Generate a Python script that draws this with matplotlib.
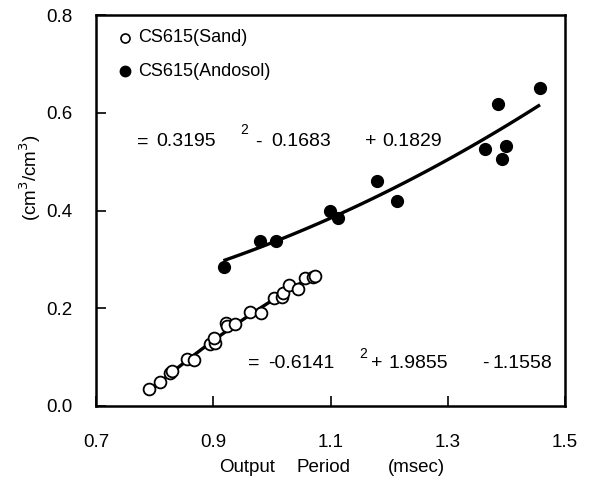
import numpy as np
import matplotlib
matplotlib.use("Agg")
import matplotlib.pyplot as plt
from matplotlib import font_manager

names = {f.name for f in font_manager.fontManager.ttflist}
narrow = 'Liberation Sans Narrow' in names
fam = ['Liberation Sans Narrow', 'Liberation Sans', 'DejaVu Sans'] if narrow else ['Liberation Sans', 'DejaVu Sans']
plt.rcParams['font.family'] = fam
k = 1.12 if narrow else 1.0

# Data
sand_x = [0.791, 0.810, 0.826, 0.830, 0.855, 0.868, 0.895, 0.903, 0.902,
          0.921, 0.924, 0.937, 0.962, 0.981, 1.003, 1.017, 1.019, 1.029,
          1.045, 1.057, 1.070, 1.074]
sand_y = [0.035, 0.050, 0.067, 0.071, 0.096, 0.094, 0.127, 0.128, 0.140,
          0.169, 0.164, 0.168, 0.192, 0.191, 0.220, 0.222, 0.231, 0.248,
          0.239, 0.261, 0.264, 0.266]
ando_x = [0.919, 0.979, 1.007, 1.099, 1.112, 1.180, 1.213, 1.364, 1.386,
          1.392, 1.399, 1.458]
ando_y = [0.284, 0.337, 0.337, 0.398, 0.385, 0.461, 0.420, 0.525, 0.618,
          0.505, 0.531, 0.650]
sand_coef = [-0.6141, 1.9855, -1.1558]
ando_coef = [0.3195, -0.1683, 0.1829]
sand_range = [0.79, 1.072]
ando_range = [0.92, 1.455]

W, H = 593, 486
fig = plt.figure(figsize=(W / 100, H / 100), dpi=100)
ax = fig.add_axes([96 / W, 1 - 406 / H, (565 - 96) / W, (406 - 15) / H])

xs = np.linspace(*sand_range, 100)
ax.plot(xs, np.polyval(sand_coef, xs), color='black', lw=2.4, zorder=2)
xa = np.linspace(*ando_range, 100)
ax.plot(xa, np.polyval(ando_coef, xa), color='black', lw=2.4, zorder=2)

ax.plot(sand_x, sand_y, 'o', mfc='white', mec='black', mew=1.3, ms=8.5,
        zorder=3, linestyle='none')
ax.plot(ando_x, ando_y, 'o', mfc='black', mec='black', ms=8.5,
        zorder=3, linestyle='none')

ax.set_xlim(0.7, 1.5)
ax.set_ylim(0.0, 0.8)
ax.set_xticks([0.7, 0.9, 1.1, 1.3, 1.5])
ax.set_yticks([0.0, 0.2, 0.4, 0.6, 0.8])
ax.set_xticklabels(['0.7', '0.9', '1.1', '1.3', '1.5'])
ax.set_yticklabels(['0.0', '0.2', '0.4', '0.6', '0.8'])
ax.tick_params(direction='in', length=7, width=1.2, labelsize=13.5 * k,
               top=False, right=False)
ax.tick_params(axis='x', pad=20)
ax.tick_params(axis='y', pad=17)
for s in ax.spines.values():
    s.set_linewidth(1.8)

def ftxt(px, py, s, **kw):
    fig.text(px / W, 1 - py / H, s, va='center', **kw)

fs = 14 * k
ftxt(219, 468, 'Output', fontsize=13.5 * k)
ftxt(296, 468, 'Period', fontsize=13.5 * k)
ftxt(388, 468, '(msec)', fontsize=13.5 * k)
fig.text(30 / W, 1 - 178 / H, '(cm$^3$/cm$^3$)', rotation=90, fontsize=13.5 * k,
         ha='center', va='center')

# legend
fig.lines.append(plt.Line2D([125 / W], [1 - 38 / H], marker='o', mfc='white',
                            mec='black', ms=6.5, mew=1.2, transform=fig.transFigure))
fig.lines.append(plt.Line2D([125 / W], [1 - 71 / H], marker='o', mfc='black',
                            mec='black', ms=7.5, transform=fig.transFigure))
ftxt(138, 38, 'CS615(Sand)', fontsize=13 * k)
ftxt(138, 71, 'CS615(Andosol)', fontsize=13 * k)

# equations
ftxt(137, 142, '=', fontsize=fs)
ftxt(156, 142, '0.3195', fontsize=fs)
ftxt(240, 130, '2', fontsize=10 * k)
ftxt(255, 142, '-', fontsize=fs)
ftxt(271, 142, '0.1683', fontsize=fs)
ftxt(365, 142, '+', fontsize=fs)
ftxt(382, 142, '0.1829', fontsize=fs)

ftxt(248, 363, '=', fontsize=fs)
ftxt(268, 363, '-0.6141', fontsize=fs)
ftxt(359, 354, '2', fontsize=10 * k)
ftxt(371, 363, '+', fontsize=fs)
ftxt(388, 363, '1.9855', fontsize=fs)
ftxt(482, 363, '-', fontsize=fs)
ftxt(492, 363, '1.1558', fontsize=fs)

fig.savefig('out.png', dpi=100)
